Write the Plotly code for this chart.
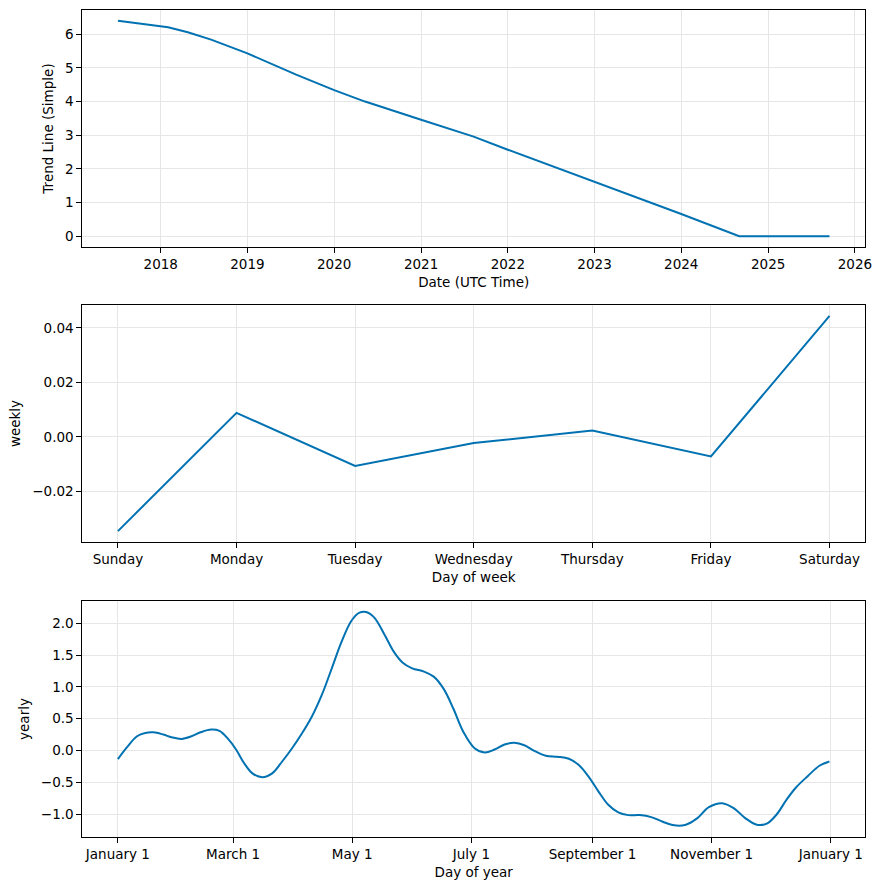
import pandas as pd
import plotly.graph_objects as go

# ---------------- data ----------------
trend_dates = ["2017-07-05", "2018-02-01", "2018-04-25", "2018-08-01", "2019-01-01",
               "2019-07-25", "2020-01-01", "2020-05-10", "2021-01-01", "2021-08-10",
               "2022-01-01", "2023-01-01", "2024-01-01", "2024-09-01", "2025-09-16"]
trend_values = [6.40, 6.21, 6.06, 5.84, 5.43,
                4.80, 4.34, 4.00, 3.46, 2.96,
                2.57, 1.62, 0.66, 0.0, 0.0]

weekly_days = ["Sunday", "Monday", "Tuesday", "Wednesday", "Thursday", "Friday", "Saturday"]
weekly_values = [-0.0346, 0.0088, -0.0107, -0.0023, 0.0023, -0.0072, 0.0444]

yearly_day = [0, 4.8, 9.8, 14, 18.2, 23.3, 27.5, 32.6, 37.7, 42.7, 47.8, 52, 56.2, 60.5,
              64.7, 68.9, 73.9, 79, 84, 89.1, 94.2, 99.2, 104.3, 109.4, 114.4, 119.5,
              123.7, 127.1, 131.3, 136.4, 141.5, 145.7, 150.7, 156.7, 161.7, 166.8,
              171.8, 176.9, 182.8, 187.8, 192.9, 198, 203, 208.1, 213.2, 219.1, 225,
              230.9, 236, 241, 246.1, 251.1, 256.2, 261.3, 267.2, 273.1, 279, 284.9,
              290.8, 296.7, 302.6, 309.4, 315.3, 321.2, 327.1, 332.2, 337.2, 342.3,
              347.3, 353.3, 359.2, 364.3]
yearly_values = [-0.135, 0.057, 0.224, 0.276, 0.286, 0.25, 0.208, 0.182, 0.224, 0.29,
                 0.328, 0.307, 0.19, 0.016, -0.203, -0.36, -0.42, -0.36, -0.177, 0.031,
                 0.266, 0.526, 0.865, 1.281, 1.698, 2.036, 2.167, 2.177, 2.089, 1.828,
                 1.542, 1.385, 1.292, 1.24, 1.161, 0.969, 0.656, 0.292, 0.031, -0.031,
                 0.016, 0.094, 0.12, 0.083, -0.005, -0.083, -0.099, -0.13, -0.229,
                 -0.411, -0.646, -0.854, -0.974, -1.016, -1.016, -1.047, -1.12, -1.177,
                 -1.167, -1.0625, -0.89, -0.828, -0.906, -1.0625, -1.167, -1.151, -1.01,
                 -0.776, -0.578, -0.401, -0.24, -0.172]
year_tick_days = [0, 59, 120, 181, 243, 304, 365]
year_tick_labels = ["January 1", "March 1", "May 1", "July 1", "September 1", "November 1", "January 1"]

# ---------------- figure ----------------
W, H = 888, 890
LINE = "#0072B2"
FONT = dict(family="DejaVu Sans", size=13.5, color="black")

base = pd.Timestamp("2017-01-01")
yearly_dates = [base + pd.Timedelta(days=d) for d in yearly_day]
year_tick_dates = [base + pd.Timedelta(days=d) for d in year_tick_days]

fig = go.Figure()
fig.add_trace(go.Scatter(x=pd.to_datetime(trend_dates), y=trend_values, mode="lines",
                         line=dict(color=LINE, width=2), xaxis="x", yaxis="y"))
fig.add_trace(go.Scatter(x=list(range(len(weekly_days))), y=weekly_values, mode="lines",
                         line=dict(color=LINE, width=2), xaxis="x2", yaxis="y2"))
fig.add_trace(go.Scatter(x=yearly_dates, y=yearly_values, mode="lines",
                         line=dict(color=LINE, width=2, shape="spline", smoothing=1.0),
                         xaxis="x3", yaxis="y3"))

ax_style = dict(showline=True, mirror=True, linecolor="black", linewidth=1,
                ticks="outside", ticklen=5, tickwidth=1, tickcolor="black",
                showgrid=True, gridcolor="#e6e6e6", gridwidth=1, zeroline=False,
                tickfont=FONT, title_font=FONT)

xd = [83 / W, 872 / W]
def ydom(top, bottom):
    return [1 - bottom / H, 1 - top / H]

start_w = -0.3
end_w = len(weekly_days) - 1 + 0.3

fig.update_layout(
    width=W, height=H, autosize=False, margin=dict(l=0, r=0, t=0, b=0),
    paper_bgcolor="white", plot_bgcolor="white", showlegend=False,
    font=FONT,
    xaxis=dict(domain=xd, anchor="y", type="date",
               range=["2017-02-05", "2026-02-13"], dtick="M12", tick0="2018-01-01",
               tickformat="%Y", title=dict(text="Date (UTC Time)", standoff=6), **ax_style),
    yaxis=dict(domain=ydom(10, 247), anchor="x", range=[-0.32, 6.72], dtick=1,
               title=dict(text="Trend Line (Simple)", standoff=8), **ax_style),
    xaxis2=dict(domain=xd, anchor="y2", range=[start_w, end_w],
                tickvals=list(range(len(weekly_days))), ticktext=weekly_days,
                title=dict(text="Day of week", standoff=6), **ax_style),
    yaxis2=dict(domain=ydom(305, 542), anchor="x2", range=[-0.0386, 0.0484],
                tickvals=[-0.02, 0.0, 0.02, 0.04], tickformat=".2f",
                title=dict(text="weekly", standoff=8), **ax_style),
    xaxis3=dict(domain=xd, anchor="y3", type="date",
                range=[base - pd.Timedelta(days=18.2), base + pd.Timedelta(days=382.6)],
                tickvals=year_tick_dates, ticktext=year_tick_labels,
                title=dict(text="Day of year", standoff=6), **ax_style),
    yaxis3=dict(domain=ydom(601, 837), anchor="x3", range=[-1.36, 2.35],
                tickvals=[-1.0, -0.5, 0.0, 0.5, 1.0, 1.5, 2.0], tickformat=".1f",
                title=dict(text="yearly", standoff=8), **ax_style),
)

post = "document.body.style.margin='0';document.body.style.overflow='hidden';"
fig.write_html("out.html", config={"responsive": False, "displayModeBar": False},
               post_script=post)
